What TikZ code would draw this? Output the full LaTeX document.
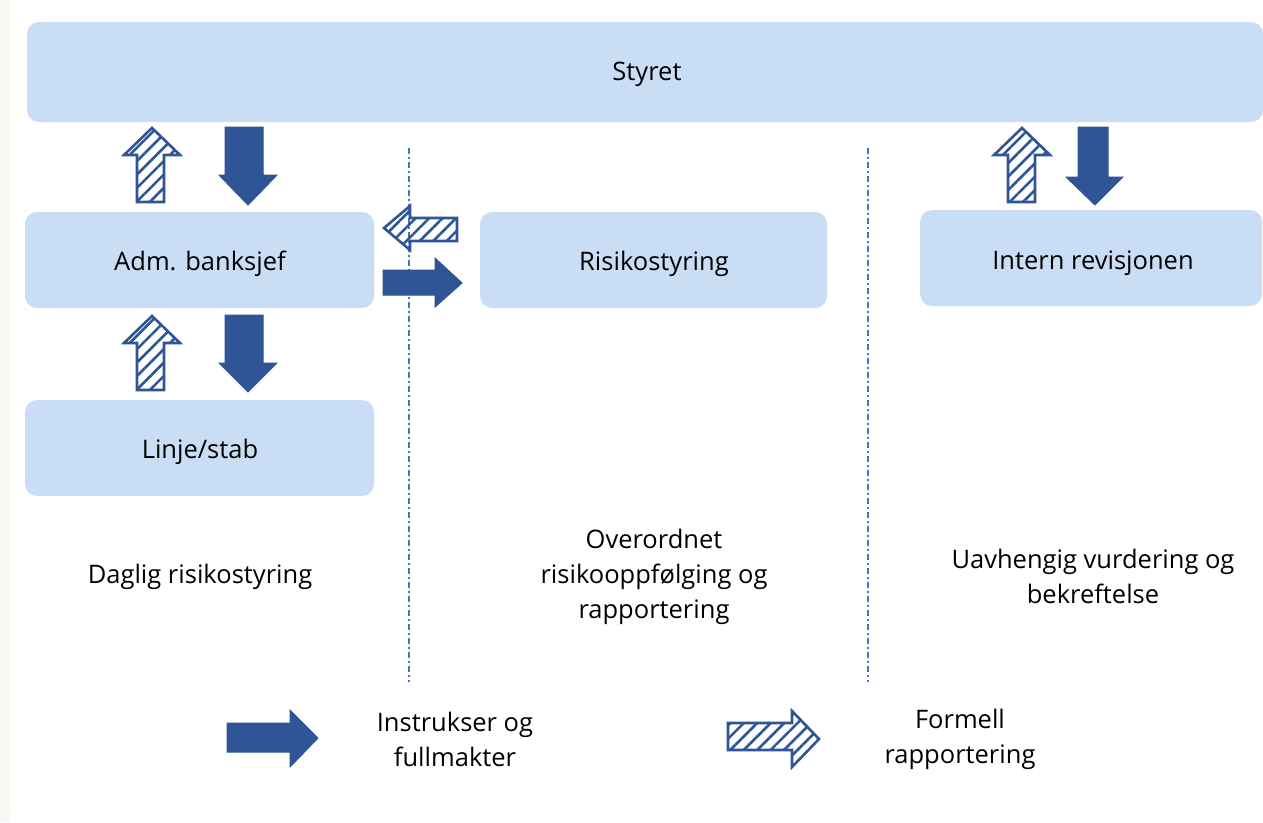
\documentclass[tikz,border=0pt]{standalone}
\usepackage{fontspec}
\setmainfont{Open Sans}
\usetikzlibrary{patterns.meta}
\definecolor{boxblue}{HTML}{C9DDF5}
\definecolor{arrowblue}{HTML}{2F5597}
\definecolor{linecol}{HTML}{4472C4}
\definecolor{strip}{HTML}{FAF6F2}
\tikzset{
  box/.style={fill=boxblue, rounded corners=12pt},
  lbl/.style={align=center, font=\fontsize{25.5}{35}\selectfont},
  solidarrow/.style={fill=arrowblue, draw=arrowblue, line width=1pt, line join=miter},
  hatcharrow/.style={draw=arrowblue, line width=2.6pt, line join=miter,
     pattern={Lines[angle=45, distance=9.5pt, line width=2.6pt]}, pattern color=arrowblue},
  divider/.style={draw=linecol, line width=1.3pt, dash pattern=on 6pt off 3pt on 2pt off 3pt}
}
\begin{document}
\begin{tikzpicture}[x=1pt, y=-1pt]
\useasboundingbox (0,0) rectangle (1263,822);
\fill[white] (0,0) rectangle (1263,822);
\fill[strip] (0,0) rectangle (10,822);
% boxes
\fill[box] (27,22) rectangle (1263,122);
\node[lbl] (styret) at (647,74) {Styret};
\fill[box] (25,212) rectangle (374,308);
\node[lbl] (adm) at (200,264) {Adm. banksjef};
\fill[box] (25,400) rectangle (374,496);
\node[lbl] (linje) at (200,452) {Linje/stab};
\fill[box] (480,212) rectangle (827,308);
\node[lbl] (risk) at (654,264) {Risikostyring};
\fill[box] (920,210) rectangle (1262,306);
\node[lbl] (intern) at (1093,263) {Intern revisjonen};
% dividers
\coordinate (d1a) at (409,148); \coordinate (d1b) at (409,682);
\coordinate (d2a) at (868,148); \coordinate (d2b) at (868,682);
\draw[divider] (d1a) -- (d1b);
\draw[divider] (d2a) -- (d2b);
% Styret <-> Adm
\draw[hatcharrow] (152,128) -- (180,155) -- (164,155) -- (164,202) -- (137,202) -- (137,155) -- (124,155) -- cycle;
\draw[solidarrow] (225,127) -- (263,127) -- (263,175) -- (277,175) -- (248,205) -- (219,175) -- (225,175) -- cycle;
% Adm <-> Linje
\draw[hatcharrow] (152,316) -- (180,343) -- (164,343) -- (164,390) -- (137,390) -- (137,343) -- (124,343) -- cycle;
\draw[solidarrow] (225,315) -- (263,315) -- (263,363) -- (277,363) -- (248,392) -- (219,363) -- (225,363) -- cycle;
% Styret <-> Intern
\draw[hatcharrow] (1022,128) -- (1050,155) -- (1035,155) -- (1035,202) -- (1008,202) -- (1008,155) -- (994,155) -- cycle;
\draw[solidarrow] (1078,127) -- (1108,127) -- (1108,177) -- (1123,177) -- (1095,205) -- (1066,177) -- (1078,177) -- cycle;
% Adm <-> Risk
\draw[hatcharrow] (384,228) -- (410,206) -- (410,218) -- (457,218) -- (457,241) -- (410,241) -- (410,250) -- cycle;
\draw[solidarrow] (383,270) -- (435,270) -- (435,258) -- (462,283) -- (435,307) -- (435,295) -- (383,295) -- cycle;
% column labels
\node[lbl] (c1) at (200,577) {Daglig risikostyring};
\node[lbl] (c2) at (654,577) {Overordnet\\risikooppfølging og\\rapportering};
\node[lbl] (c3) at (1093,576) {Uavhengig vurdering og\\bekreftelse};
% legend
\draw[solidarrow] (227,723) -- (290,723) -- (290,710) -- (318,738) -- (290,767) -- (290,752) -- (227,752) -- cycle;
\node[lbl] (l1) at (455,739) {Instrukser og\\fullmakter};
\draw[hatcharrow] (728,723) -- (792,723) -- (792,711) -- (819,739) -- (792,767) -- (792,750) -- (728,750) -- cycle;
\node[lbl] (l2) at (960,739) {Formell\\rapportering};
\end{tikzpicture}
\end{document}
